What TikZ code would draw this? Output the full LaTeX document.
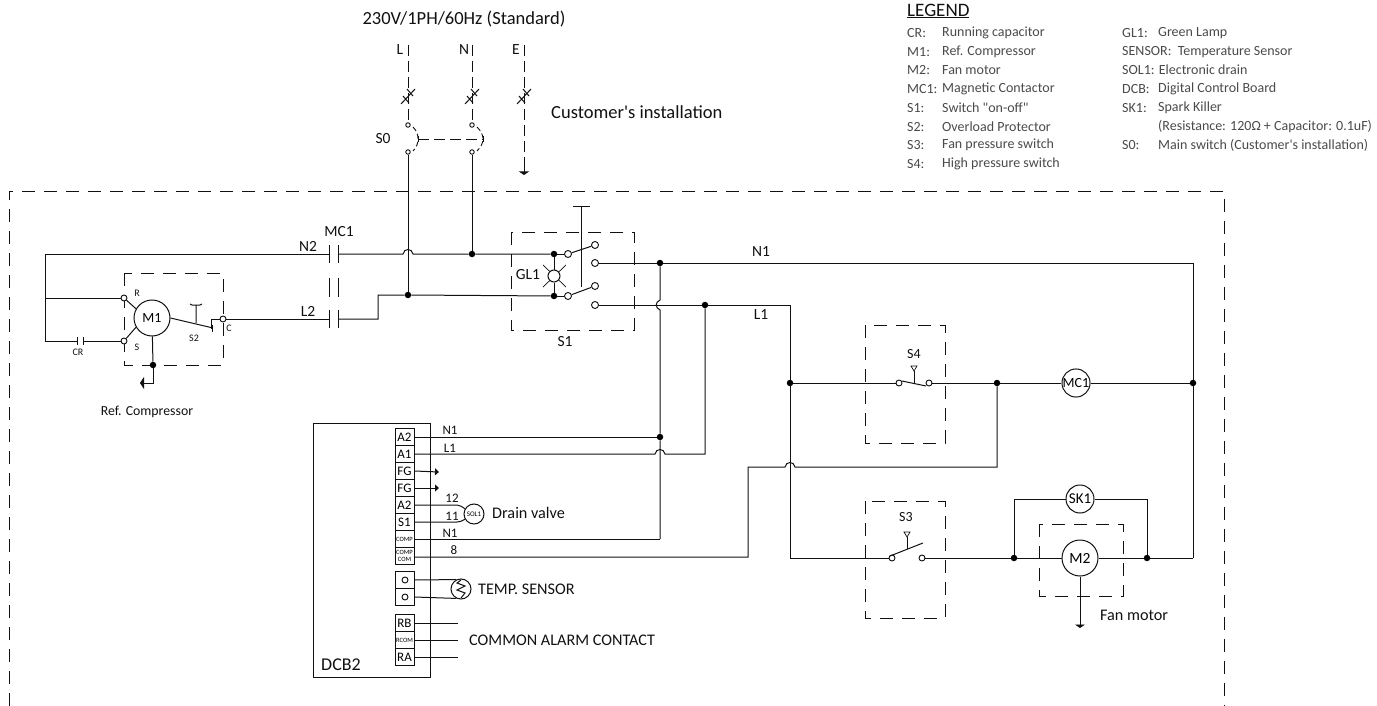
\documentclass[tikz,border=0pt]{standalone}
\usepackage{fontspec}
\setmainfont{Carlito}[Ligatures=TeXOff]
\usetikzlibrary{arrows.meta}
\definecolor{inkline}{HTML}{111111}
\definecolor{legendgray}{HTML}{4A4A4A}
\tikzset{
    wire/.style={draw=inkline,line width=1pt},
    dashwire/.style={draw=inkline,line width=0.9pt,dash pattern=on 11pt off 5pt},
    dashbox/.style={draw=inkline,line width=0.9pt,dash pattern=on 13pt off 9pt},
    dot/.style={circle,fill=black,inner sep=0pt,minimum size=6.5pt},
    term/.style={circle,draw=inkline,fill=white,line width=0.9pt,inner sep=0pt,minimum size=6pt},
    bigterm/.style={term,minimum size=7pt},
    smallterm/.style={term,minimum size=4.5pt},
    load/.style={circle,draw=inkline,fill=white,line width=1pt,inner sep=0pt,font=\fontsize{15.5}{15.5}\selectfont},
    cell/.style={rectangle,draw=inkline,fill=white,line width=1pt,inner sep=0pt,minimum width=19pt,minimum height=17pt,font=\fontsize{13}{13}\selectfont},
    tinycell/.style={cell,font=\fontsize{6.5}{7}\selectfont,align=center},
    biglbl/.style={inner sep=0pt,font=\fontsize{18.5}{18.5}\selectfont,text=inkline},
    midlbl/.style={inner sep=0pt,anchor=west,font=\fontsize{16.2}{16.2}\selectfont,text=inkline},
    lbl/.style={inner sep=0pt,font=\fontsize{15.5}{15.5}\selectfont,text=inkline},
    smalllbl/.style={inner sep=0pt,font=\fontsize{13}{13}\selectfont,text=inkline},
    tinylbl/.style={inner sep=0pt,font=\fontsize{10}{10}\selectfont,text=inkline},
    leg/.style={inner sep=0pt,anchor=west,font=\fontsize{14}{14}\selectfont,text=legendgray},
    earth/.style={-{Triangle[length=3.5pt,width=10pt]}},
    chassis/.style={-{Triangle[length=4pt,width=7pt]}},
    breakmark/.pic={\draw[wire] (-7,8) -- (7,-7) (-5,0) -- (1,7) (-1,-7) -- (5,0);}
}
\begin{document}
\begin{tikzpicture}[x=1pt,y=-1pt]
    \useasboundingbox (0,0) rectangle (1377,706);

    \node[biglbl] (title) at (464,19) {230V/1PH/60Hz (Standard)};
    \node[lbl] (Ltop) at (400,50) {L};
    \node[lbl] (Ntop) at (464,50) {N};
    \node[lbl] (Etop) at (516,50) {E};
    \node[lbl] (S0) at (383,139) {S0};
    \node[biglbl,anchor=west] (custinst) at (551,112) {Customer's installation};
    \coordinate (Lin) at (408,45);
    \coordinate (Nin) at (472,45);
    \coordinate (Ein) at (524,45);
    \node[smallterm] (Lup) at (408,125) {};
    \node[smallterm] (Nup) at (472,125) {};
    \node[smallterm] (Ldown) at (408,152) {};
    \node[smallterm] (Ndown) at (472,152) {};
    \coordinate (Eend) at (524,168);
    \coordinate (Egnd) at (524,175);
    \coordinate (Lknife) at (418,139);
    \coordinate (Nknife) at (483,139);
    \draw[dashwire] (Lin) -- (Lup);
    \draw[dashwire] (Nin) -- (Nup);
    \draw[dashwire] (Ein) -- (Eend);
    \draw[wire,earth] (Eend) -- (Egnd);
    \pic at (408,96) {breakmark};
    \pic at (472,96) {breakmark};
    \pic at (524,96) {breakmark};
    \draw[dashwire,dash pattern=on 5pt off 3pt] (413,127) .. controls (417,131) and (418,135) .. (Lknife) .. controls (418,143) and (417,147) .. (413,151);
    \draw[dashwire,dash pattern=on 5pt off 3pt] (477,127) .. controls (481,131) and (483,135) .. (Nknife) .. controls (483,143) and (481,147) .. (477,151);
    \draw[wire] (418,136) -- (418,142) (483,136) -- (483,142);
    \draw[dashwire] (Lknife) -- (Nknife);

    \draw[dashbox] (9,706) -- (9,191) -- (1224,191) -- (1224,706);

    \node[dot] (jL) at (408,295) {};
    \node[dot] (jN) at (472,254) {};
    \draw[wire] (Ldown) -- (jL);
    \draw[wire] (Ndown) -- (jN);

    \node[lbl] (N2) at (308,246) {N2};
    \node[lbl] (L2) at (308,311) {L2};
    \node[lbl] (MC1top) at (339,232) {MC1};
    \coordinate (mcNa) at (329,254);
    \coordinate (mcNb) at (338,254);
    \coordinate (mcLa) at (329,319);
    \coordinate (mcLb) at (338,319);
    \draw[wire] (329,245) -- (329,263) (338,245) -- (338,263);
    \draw[wire] (329,278) -- (329,297) (338,278) -- (338,297);
    \draw[wire] (329,310) -- (329,328) (338,310) -- (338,328);

    \draw[dashbox] (511,232) rectangle (634,330);
    \node[dot] (jSa) at (554,254) {};
    \node[dot] (jSb) at (554,296) {};
    \draw[wire,line width=0.7pt] (543,265) -- (566,287) (543,287) -- (566,265);
    \node[load] (GL) at (554,276) [minimum size=12pt] {};
    \node[lbl] (GL1) at (528,275) {GL1};
    \node[bigterm] (Sa) at (568,254) {};
    \node[bigterm] (Sb) at (568,296) {};
    \node[bigterm] (Sc) at (595,245) {};
    \node[bigterm] (Sd) at (595,263) {};
    \node[bigterm] (Se) at (595,286) {};
    \node[bigterm] (Sf) at (595,305) {};
    \node[lbl] (S1) at (565,342) {S1};
    \draw[wire] (573,207) -- (590,207) (581,207) -- (581,287);
    \draw[wire] (Sa) -- (Sc);
    \draw[wire] (Sb) -- (Se);
    \draw[wire] (jSa) -- (GL) -- (jSb);
    \draw[wire] (jSa) -- (Sa);
    \draw[wire] (jSb) -- (Sb);

    \draw[wire] (mcNb) -- (403,254) .. controls (404,248) and (412,248) .. (413,254) -- (jN) -- (jSa);
    \draw[wire] (mcLb) -- (378,319) -- (378,295) -- (jL) -- (jSb);

    \node[dot] (jN1) at (660,263) {};
    \node[dot] (jL1) at (705,305) {};
    \node[dot] (jA2) at (660,437) {};
    \node[dot] (jRa) at (1193,383) {};
    \node[dot] (jLa) at (790,383) {};
    \node[dot] (jMid) at (997,383) {};
    \node[lbl] (N1lbl) at (761,252) {N1};
    \node[lbl] (L1lbl) at (761,315) {L1};
    \coordinate (cornerNE) at (1193,263);
    \coordinate (cornerSE) at (1193,558);
    \draw[wire] (Sd) -- (jN1) -- (cornerNE) -- (jRa) -- (cornerSE);
    \draw[wire] (Sf) -- (jL1) -- (790,305) -- (jLa);
    \draw[wire] (jN1) -- (660,300) .. controls (655,302) and (655,308) .. (660,310) -- (jA2) -- (660,539);

    \draw[dashbox] (124,273) rectangle (223,365);
    \node[load,font=\fontsize{14}{14}\selectfont] (M1) at (152,318) [minimum size=36pt] {M1};
    \node[term] (R) at (124,298) {};
    \node[term] (S) at (124,341) {};
    \node[term] (C) at (223,319) {};
    \node[dot] (jM1) at (153,365) {};
    \node[tinylbl] (Rt) at (137,293) {R};
    \node[tinylbl] (St) at (137,347) {S};
    \node[tinylbl] (Ct) at (229,328) {C};
    \node[tinylbl] (S2t) at (194,338) {S2};
    \node[tinylbl] (CRt) at (78,352) {CR};
    \node[smalllbl,font=\fontsize{13.8}{13.8}\selectfont] (refcomp) at (147,412) {Ref. Compressor};
    \coordinate (crA) at (77,341);
    \coordinate (crB) at (83,341);
    \coordinate (mgnd) at (140,383);
    \draw[wire] (mcNa) -- (45,254) -- (45,341) -- (crA);
    \draw[wire] (45,298) -- (R);
    \draw[wire] (crB) -- (S);
    \draw[wire] (77,337) -- (77,345) (83,337) -- (83,345);
    \draw[wire] (R) -- (M1.150);
    \draw[wire] (S) -- (M1.210);
    \draw[wire] (M1) -- (jM1);
    \draw[wire,-{Triangle[length=4pt,width=12pt]}] (jM1) |- (mgnd);
    \draw[wire] (M1.east) -- (213,328);
    \draw[wire] (196,323) -- (196,305) (190,304) -- (192,305) -- (200,305) -- (202,304);
    \draw[wire] (212,325) -- (212,332);
    \draw[wire] (211,329) -- (211,319) -- (C);
    \draw[wire] (C) -- (mcLa);

    \draw[dashbox] (865,325) rectangle (945,443);
    \node[smalllbl,font=\fontsize{14}{14}\selectfont] (S4) at (914,354) {S4};
    \node[term] (S4a) at (899,383) {};
    \node[term] (S4b) at (929,383) {};
    \node[load,font=\fontsize{14}{14}\selectfont] (MC1) at (1076,383) [minimum size=27pt] {MC1};
    \draw[wire] (jLa) -- (S4a);
    \draw[wire] (902,381) -- (926,386);
    \draw[wire] (914,384) -- (914,371);
    \draw[wire,line width=0.7pt] (911,366) -- (917,366) -- (914,371) -- cycle;
    \draw[wire] (S4b) -- (jMid) -- (MC1) -- (jRa);

    \draw[wire] (jMid) -- (997,467) -- (795,467) .. controls (794,461) and (786,461) .. (785,467) -- (748,467) -- (748,557) -- (414,557);

    \draw[dashbox] (865,501) rectangle (945,618);
    \node[smalllbl,font=\fontsize{14}{14}\selectfont] (S3) at (906,517) {S3};
    \node[term] (S3a) at (892,558) {};
    \node[term] (S3b) at (922,558) {};
    \node[dot] (jFl) at (1014,558) {};
    \node[dot] (jFr) at (1147,558) {};
    \draw[dashbox] (1039,524) rectangle (1123,596);
    \node[load] (M2) at (1080,558) [minimum size=36pt] {M2};
    \node[load,font=\fontsize{15}{15}\selectfont] (SK1) at (1080,499) [minimum size=28pt] {SK1};
    \node[midlbl] (fanmotor) at (1100,615) {Fan motor};
    \coordinate (fgnd) at (1080,628);
    \draw[wire] (jLa) -- (790,558) -- (S3a);
    \draw[wire] (890,556) -- (923,543);
    \draw[wire] (907,549) -- (907,537);
    \draw[wire,line width=0.7pt] (904,532) -- (910,532) -- (907,537) -- cycle;
    \draw[wire] (S3b) -- (jFl) -- (M2) -- (jFr) -- (cornerSE);
    \draw[wire] (jFl) |- (SK1);
    \draw[wire] (jFr) |- (SK1);
    \draw[wire,earth] (M2) -- (fgnd);

    \draw[wire] (313,423) rectangle (430,677);
    \node[lbl,font=\fontsize{18}{18}\selectfont] (DCB2) at (341,665) {DCB2};
    \node[cell] (A2a) at (404.5,437) {A2};
    \node[cell] (A1a) at (404.5,454) {A1};
    \node[cell] (FGa) at (404.5,471) {FG};
    \node[cell] (FGb) at (404.5,488) {FG};
    \node[cell] (A2b) at (404.5,505) {A2};
    \node[cell] (S1b) at (404.5,522) {S1};
    \node[tinycell] (COMP) at (404.5,539) {COMP};
    \node[tinycell] (COMPCOM) at (404.5,556) {COMP\\COM};
    \node[cell] (Ta) at (404.5,580) {};
    \node[cell] (Tb) at (404.5,597) {};
    \node[term] (Tao) at (405,580) {};
    \node[term] (Tbo) at (405,597) {};
    \node[cell] (RB) at (404.5,623) {RB};
    \node[tinycell] (RCOM) at (404.5,640) {RCOM};
    \node[cell] (RA) at (404.5,657) {RA};
    \coordinate (fgA) at (439,472);
    \coordinate (fgB) at (439,488);
    \coordinate (alarmA) at (458,623);
    \coordinate (alarmB) at (458,640);
    \coordinate (alarmC) at (458,657);
    \draw[wire] (A2a.east) -- (jA2);
    \draw[wire] (A1a.east) -- (655,454) .. controls (656,448) and (664,448) .. (665,454) -- (705,454) -- (jL1);
    \draw[wire,chassis] (FGa.east) -- (fgA);
    \draw[wire,chassis] (FGb.east) -- (fgB);
    \draw[wire] (COMP.east) -- (660,539);
    \draw[wire] (RB.east) -- (alarmA);
    \draw[wire] (RCOM.east) -- (alarmB);
    \draw[wire] (RA.east) -- (alarmC);

    \node[load,font=\fontsize{7}{7}\selectfont] (SOL1) at (474,514) [minimum size=20pt] {SOL1};
    \draw[wire] (A2b.east) -- (457,505) to[out=0,in=150] (SOL1.150);
    \draw[wire] (S1b.east) -- (457,522) to[out=0,in=210] (SOL1.210);
    \node[load] (SENSOR) at (461,589) [minimum size=20pt] {};
    \draw[wire] (Ta.east) -- (SENSOR.116);
    \draw[wire] (Tb.east) -- (SENSOR.244);
    \draw[wire] (461,580) -- (457,583) -- (465,586) -- (457,590) -- (465,593) -- (461,598);

    \node[smalllbl] (N1a) at (450,430) {N1};
    \node[smalllbl] (L1a) at (450,448) {L1};
    \node[smalllbl] (w12) at (452,498) {12};
    \node[smalllbl] (w11) at (452,516) {11};
    \node[smalllbl] (N1b) at (450,533) {N1};
    \node[smalllbl] (w8) at (454,550) {8};
    \node[midlbl] (drain) at (492,513) {Drain valve};
    \node[midlbl] (tempsens) at (478,589) {TEMP. SENSOR};
    \node[midlbl] (alarm) at (469,640) {COMMON ALARM CONTACT};

    \node[lbl,anchor=west,font=\fontsize{19}{19}\selectfont] (legendhead) at (907,11) {\underline{LEGEND}};
    \node[leg] (kCR) at (907,33) {CR:};
    \node[leg] (vCR) at (942,33) {Running capacitor};
    \node[leg] (kM1) at (907,52) {M1:};
    \node[leg] (vM1) at (942,52) {Ref. Compressor};
    \node[leg] (kM2) at (907,70) {M2:};
    \node[leg] (vM2) at (942,70) {Fan motor};
    \node[leg] (kMC1) at (907,89) {MC1:};
    \node[leg] (vMC1) at (942,89) {Magnetic Contactor};
    \node[leg] (kS1) at (907,108) {S1:};
    \node[leg] (vS1) at (942,108) {Switch "on-off"};
    \node[leg] (kS2) at (907,127) {S2:};
    \node[leg] (vS2) at (942,127) {Overload Protector};
    \node[leg] (kS3) at (907,145) {S3:};
    \node[leg] (vS3) at (942,145) {Fan pressure switch};
    \node[leg] (kS4) at (907,164) {S4:};
    \node[leg] (vS4) at (942,164) {High pressure switch};
    \node[leg] (kGL1) at (1122,33) {GL1:};
    \node[leg] (vGL1) at (1158,33) {Green Lamp};
    \node[leg] (lSENSOR) at (1122,52) {SENSOR:\ \ Temperature Sensor};
    \node[leg] (lSOL1) at (1122,70) {SOL1: Electronic drain};
    \node[leg] (kDCB) at (1122,89) {DCB:};
    \node[leg] (vDCB) at (1158,89) {Digital Control Board};
    \node[leg] (kSK1) at (1122,108) {SK1:};
    \node[leg] (vSK1) at (1158,108) {Spark Killer};
    \node[leg] (vSK1b) at (1158,127) {(Resistance: 120Ω + Capacitor: 0.1uF)};
    \node[leg] (kS0) at (1122,145) {S0:};
    \node[leg] (vS0) at (1158,145) {Main switch (Customer's installation)};
\end{tikzpicture}
\end{document}
